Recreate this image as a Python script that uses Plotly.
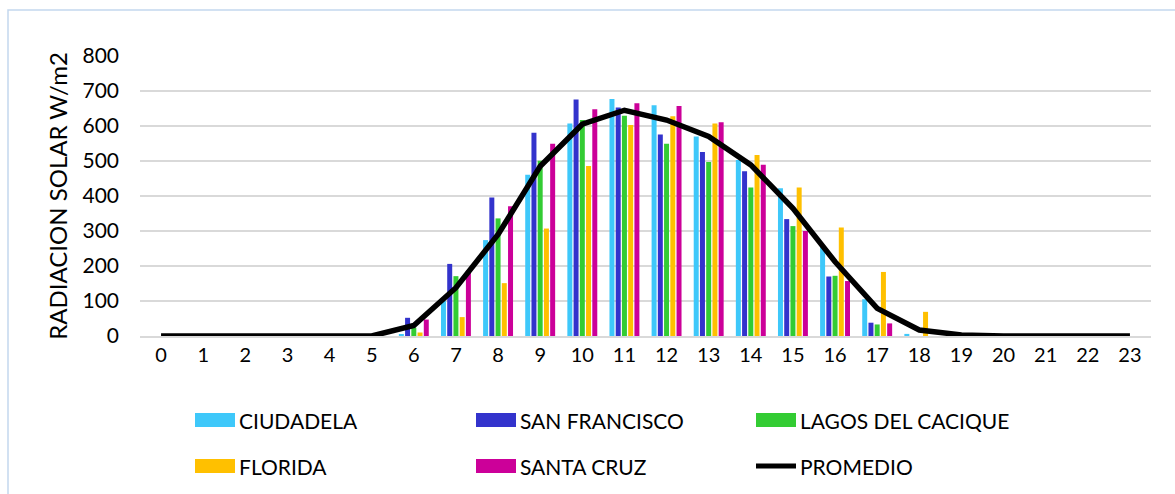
import plotly.graph_objects as go

# Hourly solar radiation (W/m2) by station
hours = list(range(24))
series_names = ["CIUDADELA", "SAN FRANCISCO", "LAGOS DEL CACIQUE", "FLORIDA", "SANTA CRUZ"]
series_colors = ["#3ec8fa", "#3333cc", "#33cc33", "#ffc000", "#cc0099"]

ciudadela     = [0, 0, 0, 0, 0, 0, 5, 100, 274, 461, 607, 677, 659, 570, 503, 422, 258, 105, 6, 0, 0, 0, 0, 0]
san_francisco = [0, 0, 0, 0, 0, 0, 52, 206, 396, 581, 676, 653, 576, 526, 471, 334, 170, 38, 0, 0, 0, 0, 0, 0]
lagos         = [0, 0, 0, 0, 0, 0, 24, 171, 336, 501, 617, 629, 549, 497, 424, 314, 172, 33, 0, 0, 0, 0, 0, 0]
florida       = [0, 0, 0, 0, 0, 0, 10, 54, 151, 307, 486, 603, 628, 607, 517, 424, 310, 183, 69, 0, 0, 0, 0, 0]
santa_cruz    = [0, 0, 0, 0, 0, 0, 47, 187, 371, 549, 648, 665, 657, 611, 489, 300, 157, 36, 0, 0, 0, 0, 0, 0]
promedio      = [0, 0, 0, 0, 0, 0, 30, 138, 290, 485, 605, 645, 617, 570, 489, 365, 212, 79, 17, 3, 0, 0, 0, 0]

station_values = [ciudadela, san_francisco, lagos, florida, santa_cruz]

y_ticks = [0, 100, 200, 300, 400, 500, 600, 700, 800]

FONT = "Lato"

fig = go.Figure()
for name, color, vals in zip(series_names, series_colors, station_values):
    fig.add_trace(go.Bar(
        x=hours, y=vals, name=name,
        marker=dict(color=color, line=dict(width=0)),
        showlegend=False,
    ))

fig.add_trace(go.Scatter(
    x=hours, y=promedio, name="PROMEDIO", mode="lines",
    line=dict(color="#000000", width=5.5),
    showlegend=False,
))

# Plot-area geometry in pixels (used to place the hand-drawn legend)
W, H = 1175, 494
L, R, T, B = 140, 24, 56, 158
pw, ph = W - L - R, H - T - B


def px_x(x):
    return (x - L) / pw


def px_y(y):
    return (H - B - y) / ph


shapes = []
annotations = []

# Outer chart frame
shapes.append(dict(
    type="rect", xref="paper", yref="paper",
    x0=px_x(8), x1=px_x(1185), y0=px_y(10), y1=px_y(505),
    line=dict(color="#c3d7ee", width=1.5), fillcolor="rgba(0,0,0,0)", layer="below",
))

# Legend: two rows of three entries
legend_items = [(n, c, "bar") for n, c in zip(series_names, series_colors)] + [("PROMEDIO", "#000000", "line")]
col_x = [195, 476, 756]
row_y = [420, 466]
sw_w = 40
for i, (name, color, kind) in enumerate(legend_items):
    cx = col_x[i % 3]
    cy = row_y[i // 3]
    if kind == "bar":
        shapes.append(dict(
            type="rect", xref="paper", yref="paper",
            x0=px_x(cx), x1=px_x(cx + sw_w), y0=px_y(cy + 7), y1=px_y(cy - 7),
            line=dict(width=0), fillcolor=color,
        ))
    else:
        shapes.append(dict(
            type="line", xref="paper", yref="paper",
            x0=px_x(cx), x1=px_x(cx + sw_w), y0=px_y(cy), y1=px_y(cy),
            line=dict(color=color, width=5),
        ))
    annotations.append(dict(
        xref="paper", yref="paper", x=px_x(cx + sw_w + 2), y=px_y(cy),
        xanchor="left", yanchor="middle", showarrow=False,
        text=name, font=dict(family=FONT, size=21, color="#000000"),
    ))

fig.update_layout(
    width=W, height=H,
    margin=dict(l=L, r=R, t=T, b=B),
    paper_bgcolor="#ffffff", plot_bgcolor="#ffffff",
    barmode="group", bargap=0.26, bargroupgap=0.2,
    font=dict(family=FONT, size=21, color="#000000"),
    shapes=shapes, annotations=annotations,
    xaxis=dict(
        range=[-0.5, 23.5], tickmode="array", tickvals=hours,
        ticktext=[str(h) for h in hours],
        showgrid=False, zeroline=False,
        showline=True, linecolor="#d9d9d9", linewidth=1.5,
        ticks="", tickfont=dict(family=FONT, size=20),
    ),
    yaxis=dict(
        range=[0, 800], tickmode="array", tickvals=y_ticks,
        showgrid=True, gridcolor="#d9d9d9", gridwidth=1.5,
        zeroline=False, showline=False, ticks="",
        ticklabelstandoff=20,
        tickfont=dict(family=FONT, size=21),
        title=dict(text="RADIACION SOLAR W/m2", font=dict(family=FONT, size=24), standoff=8),
    ),
)

fig.write_html("out.html")
